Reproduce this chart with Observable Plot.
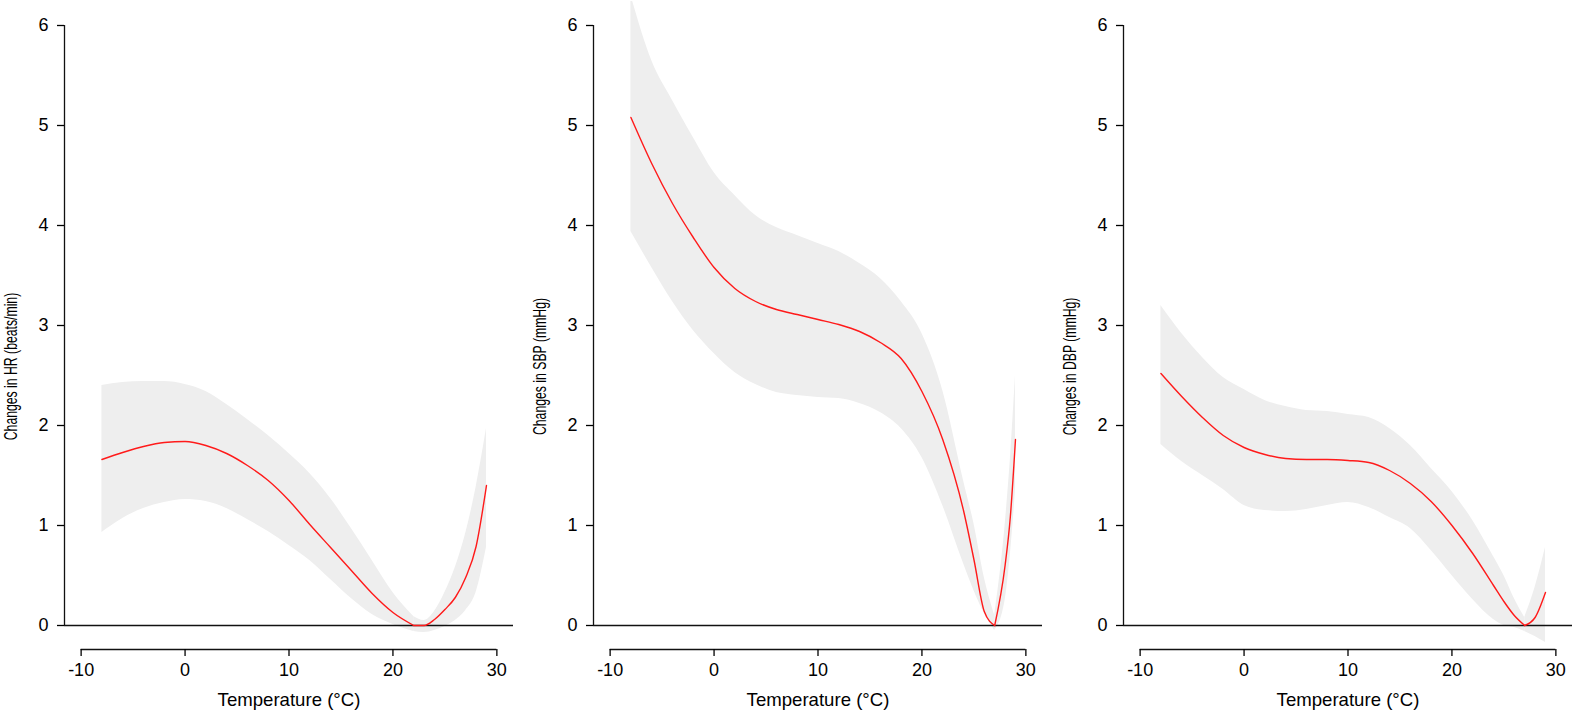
<!DOCTYPE html>
<html><head><meta charset="utf-8">
<script src="https://cdn.jsdelivr.net/npm/d3@7"></script>
<script src="https://cdn.jsdelivr.net/npm/@observablehq/plot@0.6"></script>
<style>
html,body{margin:0;padding:0;background:#fff;}
body{width:1575px;height:712px;overflow:hidden;position:relative;font-family:"Liberation Sans",Arial,sans-serif;}
.panel{position:absolute;top:0;}
</style></head><body>
<script>
// ---- axes / labels ----
const xTicks = [-10, 0, 10, 20, 30];
const yTicks = [0, 1, 2, 3, 4, 5, 6];
const xDomain = [-11.6, 31.6];
const yDomain = [-0.24, 6.24];
const xLabel = "Temperature (°C)";
const yLabels = ["Changes in HR (beats/min)", "Changes in SBP (mmHg)", "Changes in DBP (mmHg)"];

// ---- HR panel ----
const hrTemp = [-8, -6, -4, -2, 0, 2, 4, 6, 8, 10, 12, 14, 16, 18, 20, 22, 23, 24, 25, 26, 27, 28, 29];
const hrFit  = [1.66, 1.73, 1.79, 1.83, 1.84, 1.80, 1.72, 1.60, 1.45, 1.25, 1.01, 0.78, 0.55, 0.32, 0.13, 0.0, 0.0, 0.06, 0.16, 0.28, 0.48, 0.79, 1.40];
const hrLow  = [0.93, 1.07, 1.17, 1.23, 1.26, 1.24, 1.17, 1.06, 0.94, 0.80, 0.65, 0.46, 0.27, 0.11, 0.01, -0.06, -0.07, -0.05, -0.01, 0.05, 0.15, 0.33, 0.78];
const hrHigh = [2.40, 2.43, 2.44, 2.44, 2.41, 2.34, 2.21, 2.06, 1.90, 1.72, 1.52, 1.27, 0.97, 0.65, 0.33, 0.09, 0.05, 0.14, 0.33, 0.58, 0.92, 1.38, 1.97];

// ---- SBP panel ----
const sbpTemp = [-8, -6, -4, -2, 0, 2, 4, 6, 8, 10, 12, 14, 16, 18, 20, 22, 24, 25, 26, 27, 28, 28.5, 29];
const sbpFit  = [5.08, 4.62, 4.22, 3.88, 3.58, 3.37, 3.24, 3.16, 3.11, 3.06, 3.01, 2.94, 2.83, 2.67, 2.34, 1.86, 1.15, 0.66, 0.14, 0.0, 0.60, 1.08, 1.86];
const sbpLow  = [3.94, 3.58, 3.24, 2.95, 2.72, 2.53, 2.41, 2.33, 2.30, 2.28, 2.27, 2.22, 2.13, 1.97, 1.68, 1.20, 0.62, 0.35, 0.12, -0.05, 0.25, 0.70, 1.35];
const sbpHigh = [6.30, 5.65, 5.25, 4.88, 4.53, 4.30, 4.10, 3.98, 3.90, 3.82, 3.74, 3.62, 3.47, 3.24, 2.92, 2.35, 1.45, 1.02, 0.48, 0.10, 1.00, 1.65, 2.50];

// ---- DBP panel ----
const dbpTemp = [-8, -6, -4, -2, 0, 2, 4, 6, 8, 10, 12, 14, 16, 18, 20, 22, 24, 25, 26, 27, 28, 29];
const dbpFit  = [2.52, 2.29, 2.08, 1.90, 1.78, 1.71, 1.67, 1.66, 1.66, 1.65, 1.63, 1.55, 1.42, 1.24, 1.00, 0.72, 0.40, 0.24, 0.10, 0.0, 0.08, 0.33];
const dbpLow  = [1.81, 1.64, 1.50, 1.36, 1.20, 1.15, 1.14, 1.16, 1.20, 1.23, 1.18, 1.08, 0.97, 0.75, 0.50, 0.26, 0.06, 0.0, -0.02, -0.06, -0.11, -0.17];
const dbpHigh = [3.20, 2.92, 2.68, 2.48, 2.36, 2.25, 2.19, 2.15, 2.14, 2.11, 2.08, 1.97, 1.80, 1.57, 1.34, 1.05, 0.69, 0.50, 0.27, 0.08, 0.38, 0.78];

// build rows, split into two branches at the minimum so the V stays sharp
function rows(temp, fit, lo, hi) {
  const iMin = d3.minIndex(fit);
  const out = [];
  temp.forEach((t, i) => {
    if (i <= iMin) out.push({t, fit: fit[i], lo: lo[i], hi: hi[i], seg: "a"});
    if (i >= iMin) out.push({t, fit: fit[i], lo: lo[i], hi: hi[i], seg: "b"});
  });
  return out;
}

const panels = [
  {data: rows(hrTemp, hrFit, hrLow, hrHigh), label: yLabels[0], left: 0},
  {data: rows(sbpTemp, sbpFit, sbpLow, sbpHigh), label: yLabels[1], left: 529},
  {data: rows(dbpTemp, dbpFit, dbpLow, dbpHigh), label: yLabels[2], left: 1059}
];

const FONT = "Liberation Sans, Arial, sans-serif";

panels.forEach(p => {
  const svg = Plot.plot({
    width: 516, height: 712,
    marginLeft: 64, marginRight: 3, marginTop: 1, marginBottom: 63,
    x: {domain: xDomain},
    y: {domain: yDomain},
    style: {fontFamily: FONT, fontSize: "18px", color: "#000", background: "transparent", overflow: "visible"},
    marks: [
      Plot.areaY(p.data, {x: "t", y1: "lo", y2: "hi", z: "seg", fill: "#eeeeee", curve: "monotone-x", clip: true}),
      Plot.ruleY([0], {stroke: "#111", strokeWidth: 1.3}),
      Plot.lineY(p.data, {x: "t", y: "fit", z: "seg", stroke: "#ff1a1a", strokeWidth: 1.4, curve: "monotone-x", clip: true}),
      Plot.ruleX([xDomain[0]], {y1: yTicks[0], y2: yTicks[yTicks.length - 1], stroke: "#111", strokeWidth: 1.3}),
      Plot.ruleY([yDomain[0]], {x1: xTicks[0], x2: xTicks[xTicks.length - 1], stroke: "#111", strokeWidth: 1.3}),
      Plot.axisY({ticks: yTicks, tickSize: 7, tickPadding: 9, label: null, tickFormat: d => String(d), fontSize: 18, strokeWidth: 1.3}),
      Plot.axisX({ticks: xTicks, tickSize: 7, tickPadding: 7, label: null, tickFormat: d => String(d), fontSize: 18, strokeWidth: 1.3}),
      Plot.text([xLabel], {frameAnchor: "bottom", textAnchor: "middle", lineAnchor: "middle", dy: 51, fontSize: 18.6, fill: "#000"}),
      Plot.text([p.label], {frameAnchor: "left", textAnchor: "middle", lineAnchor: "middle", dx: -53, dy: 41, rotate: -90, fontSize: 18, fill: "#000"})
    ]
  });
  svg.classList.add("panel");
  svg.style.left = p.left + "px";
  document.body.appendChild(svg);
  // the original y-axis titles are horizontally condensed
  d3.select(svg).selectAll("text").filter(function() { return this.textContent === p.label; })
    .each(function() {
      const tr = this.getAttribute("transform") || "";
      this.setAttribute("transform", tr + " scale(0.68,1)");
    });
});
</script>
</body></html>
